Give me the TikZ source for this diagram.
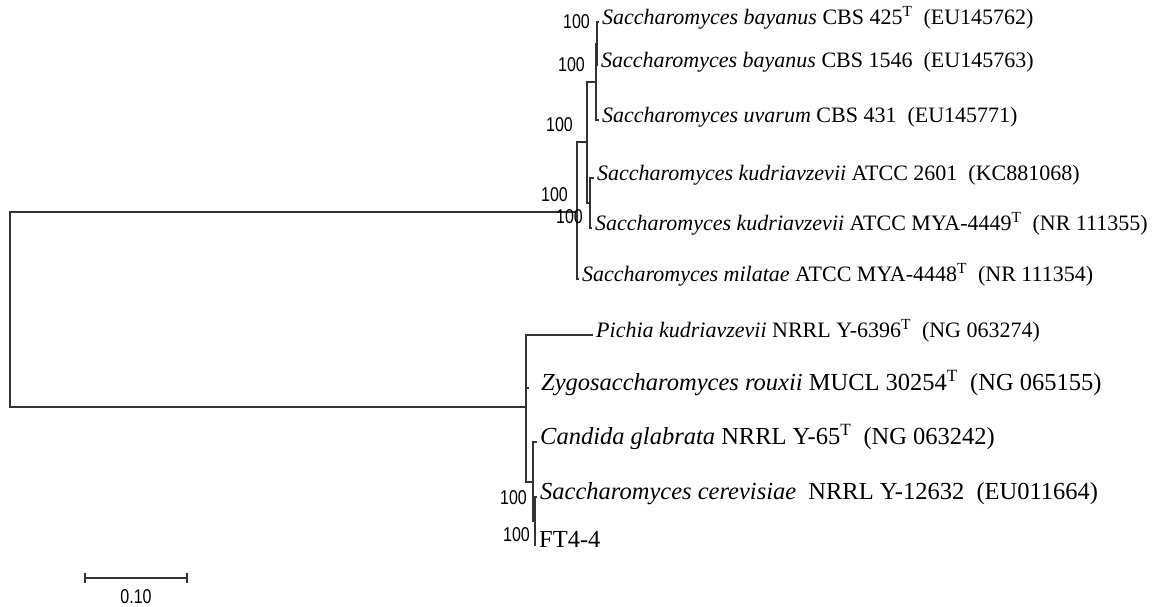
\documentclass[tikz,border=0pt]{standalone}
\usepackage{fontspec}
\usepackage{graphicx}
\setmainfont{Liberation Serif}
\newfontfamily\bootfont{Liberation Sans}
\newcommand{\narrow}[1]{\scalebox{0.8}[1]{#1}}
\newcommand{\typ}{\textsuperscript{T}}

\begin{document}
\begin{tikzpicture}[x=1pt, y=-1pt,
    branch/.style={line width=1.4pt, black!80},
    taxon/.style={anchor=mid west, inner xsep=3pt, inner ysep=0pt, font=\fontsize{22}{24}\selectfont},
    wide/.style={font=\fontsize{24.5}{26}\selectfont},
    boot/.style={anchor=east, inner sep=0pt, font=\bootfont\fontsize{20}{22}\selectfont}]
  \useasboundingbox (0,0) rectangle (1152,606);
  % Internal nodes
  \coordinate (root) at (10,309.5);
  \coordinate (nA) at (577,212);
  \coordinate (nB) at (587,142);
  \coordinate (nC) at (596,82);
  \coordinate (nE) at (597,43.5);
  \coordinate (nD) at (590,203);
  \coordinate (nF) at (526,407);
  \coordinate (nG) at (533,482);
  \coordinate (nH) at (535,521);
  \coordinate (z8) at (529,388);
  % Taxa
  \node[taxon] (t1) at (599,22) {\textit{Saccharomyces bayanus} CBS 425\typ\ \ (EU145762)};
  \node[taxon] (t2) at (598,65) {\textit{Saccharomyces bayanus} CBS 1546 \ (EU145763)};
  \node[taxon] (t3) at (599,120) {\textit{Saccharomyces uvarum} CBS 431 \ (EU145771)};
  \node[taxon] (t4) at (594,178) {\textit{Saccharomyces kudriavzevii} ATCC 2601 \ (KC881068)};
  \node[taxon] (t5) at (592,228) {\textit{Saccharomyces kudriavzevii} ATCC MYA-4449\typ\ \ (NR 111355)};
  \node[taxon] (t6) at (579,279) {\textit{Saccharomyces milatae} ATCC MYA-4448\typ\ \ (NR 111354)};
  \node[taxon] (t7) at (593,335) {\textit{Pichia kudriavzevii} NRRL Y-6396\typ\ \ (NG 063274)};
  \node[taxon, wide] (t8) at (538,388) {\textit{Zygosaccharomyces rouxii} MUCL 30254\typ\ \ (NG 065155)};
  \node[taxon, wide] (t9) at (537,442) {\textit{Candida glabrata} NRRL Y-65\typ\ \ (NG 063242)};
  \node[taxon, wide] (t10) at (537,497) {\textit{Saccharomyces cerevisiae} \ NRRL Y-12632 \ (EU011664)};
  \node[taxon, wide] (t11) at (536,545) {FT4-4};
  % Branches
  \draw[branch] (root) |- (nA);
  \draw[branch] (root) |- (nF);
  \draw[branch] (nA) |- (nB);
  \draw[branch] (nA) |- (t6.mid west);
  \draw[branch] (nB) |- (nC);
  \draw[branch] (nB) |- (nD);
  \draw[branch] (nC) |- (nE);
  \draw[branch] (nC) |- (t3.mid west);
  \draw[branch] (nE) |- (t1.mid west);
  \draw[branch] (nE) |- (t2.mid west);
  \draw[branch] (nD) |- (t4.mid west);
  \draw[branch] (nD) |- (t5.mid west);
  \draw[branch] (nF) |- (t7.mid west);
  \draw[branch] (nF) |- (z8);
  \draw[branch] (nF) |- (nG);
  \draw[branch] (nG) |- (t9.mid west);
  \draw[branch] (nG) |- (nH);
  \draw[branch] (nH) |- (t10.mid west);
  \draw[branch] (nH) |- (t11.mid west);
  % Bootstrap values
  \node[boot] (b1) at (590,22) {\narrow{100}};
  \node[boot] (b2) at (585,65) {\narrow{100}};
  \node[boot] (b3) at (573,125) {\narrow{100}};
  \node[boot] (b4) at (568,195) {\narrow{100}};
  \node[boot] (b5) at (583,217) {\narrow{100}};
  \node[boot] (b6) at (527,498) {\narrow{100}};
  \node[boot] (b7) at (530,535) {\narrow{100}};
  % Scale bar
  \coordinate (sl) at (85,578);
  \coordinate (sr) at (187,578);
  \draw[branch] (sl) -- (sr);
  \draw[branch] ([yshift=-5pt]sl) -- ([yshift=5pt]sl);
  \draw[branch] ([yshift=-5pt]sr) -- ([yshift=5pt]sr);
  \node[boot, anchor=center] (scale) at (136,597) {\narrow{0.10}};
\end{tikzpicture}
\end{document}
